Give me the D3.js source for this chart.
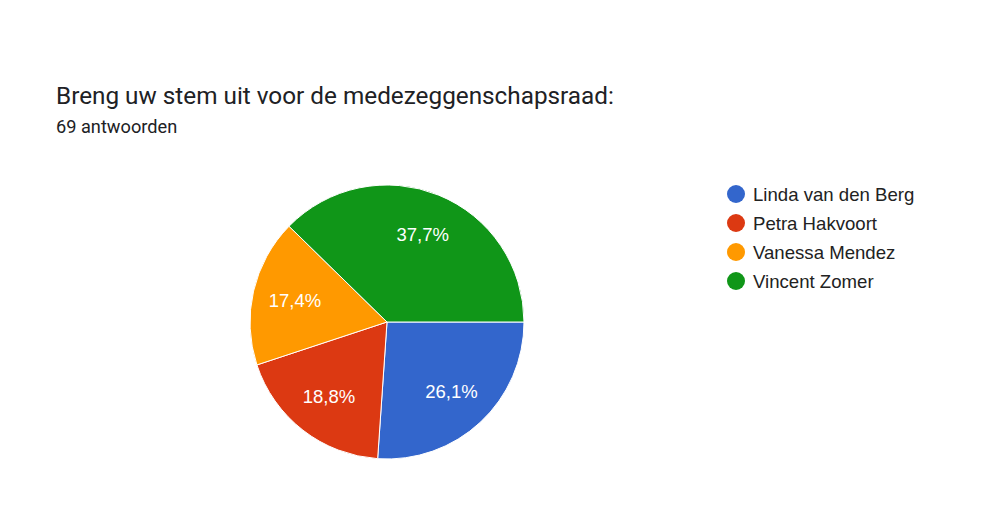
<!DOCTYPE html>
<html>
<head>
<meta charset="utf-8">
<script src="https://d3js.org/d3.v7.min.js"></script>
<style>
  body { margin: 0; background: #fff; }
  svg { display: block; }
</style>
</head>
<body>
<script>
const names = ["Linda van den Berg", "Petra Hakvoort", "Vanessa Mendez", "Vincent Zomer"];
const votes = [18, 13, 12, 26];
const colors = ["#3366cc", "#dc3912", "#ff9900", "#109618"];
const title = "Breng uw stem uit voor de medezeggenschapsraad:";
const subtitle = "69 antwoorden";

const width = 1008, height = 529;
const cx = 387, cy = 322, r = 137;

const svg = d3.select("body").append("svg")
    .attr("width", width)
    .attr("height", height);

svg.append("text")
    .attr("x", 56).attr("y", 104)
    .attr("font-family", "Roboto, sans-serif")
    .attr("font-size", 24.3)
    .attr("fill", "#202124")
    .text(title);

svg.append("text")
    .attr("x", 56).attr("y", 133)
    .attr("font-family", "Roboto, sans-serif")
    .attr("font-size", 18.2)
    .attr("fill", "#202124")
    .text(subtitle);

const total = d3.sum(votes);
const data = names.map((n, i) => ({ name: n, value: votes[i], color: colors[i] }));

// start at 3 o'clock, clockwise
const pie = d3.pie().value(d => d.value).sort(null)
    .startAngle(Math.PI / 2).endAngle(Math.PI / 2 + 2 * Math.PI);
const arc = d3.arc().innerRadius(0).outerRadius(r);
const labelArc = d3.arc().innerRadius(r * 0.69).outerRadius(r * 0.69);

const g = svg.append("g").attr("transform", `translate(${cx},${cy})`);
const arcs = pie(data);

g.selectAll("path")
    .data(arcs)
    .enter().append("path")
    .attr("d", arc)
    .attr("fill", d => d.data.color)
    .attr("stroke", "#fff")
    .attr("stroke-width", 1);

const fmt = v => (v / total * 100).toFixed(1).replace(".", ",") + "%";

g.selectAll("text")
    .data(arcs)
    .enter().append("text")
    .attr("transform", d => `translate(${labelArc.centroid(d)})`)
    .attr("text-anchor", "middle")
    .attr("dy", "0.36em")
    .attr("font-family", "Arial, 'Liberation Sans', sans-serif")
    .attr("font-size", 18.5)
    .attr("fill", "#fff")
    .text(d => fmt(d.data.value));

const legend = svg.append("g").attr("transform", "translate(736,194)");
const item = legend.selectAll("g")
    .data(data)
    .enter().append("g")
    .attr("transform", (d, i) => `translate(0,${i * 29})`);

item.append("circle")
    .attr("r", 9)
    .attr("fill", d => d.color);

item.append("text")
    .attr("x", 17)
    .attr("dy", "0.36em")
    .attr("font-family", "Arial, 'Liberation Sans', sans-serif")
    .attr("font-size", 18.6)
    .attr("fill", "#222")
    .text(d => d.name);
</script>
</body>
</html>
